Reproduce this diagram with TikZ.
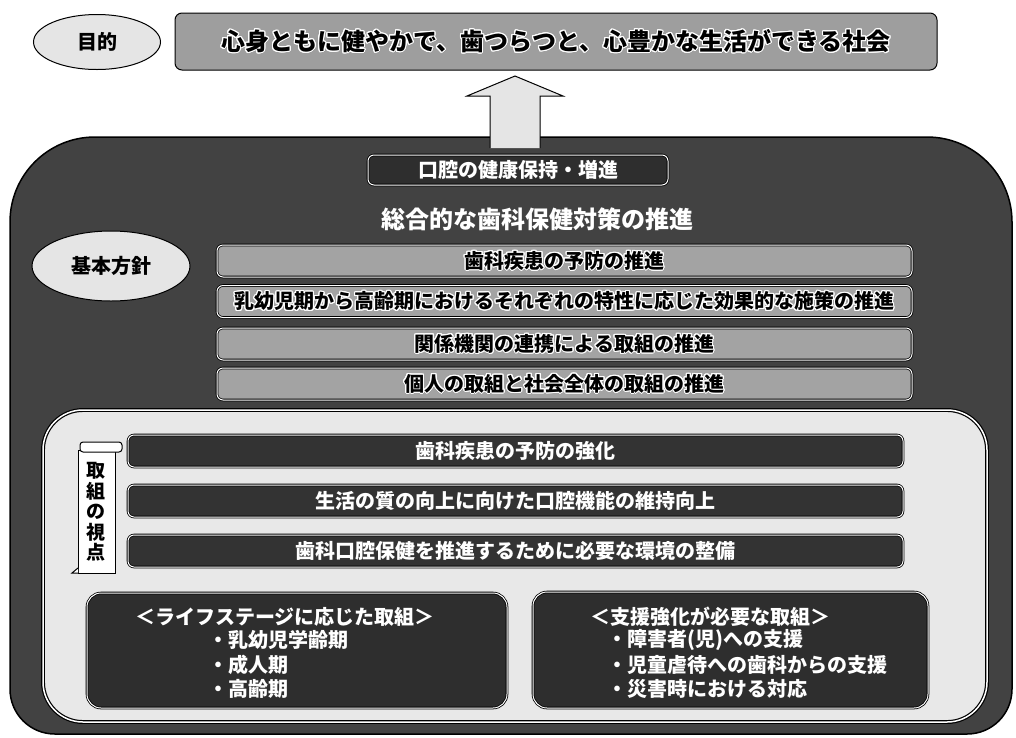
\documentclass[tikz,border=0pt]{standalone}
\usepackage{fontspec}
\setmainfont{Noto Sans CJK JP}
\usetikzlibrary{shapes.geometric}
\usepackage[copies]{contour}
\contourlength{1pt}
\contournumber{20}
\newcommand\myfs[1]{\fontsize{#1}{#1}\selectfont\bfseries}
\begin{document}
\begin{tikzpicture}[x=1pt,y=-1pt,
  ell/.style={ellipse, draw=black, line width=1pt, fill=black!10, inner sep=0pt},
  topbox/.style={draw=black, line width=1pt, fill=black!38, rounded corners=7pt, inner sep=0pt},
  outerbox/.style={draw=black, line width=1.5pt, fill=black!74},
  innerbox/.style={draw=black, line width=1.2pt, double=white, double distance=1.5pt, fill=black!9, rounded corners=40pt, inner sep=0pt},
  policy/.style={draw=black, line width=0.8pt, double=white, double distance=1pt, fill=black!36, rounded corners=6pt, inner sep=0pt, minimum width=695pt, minimum height=32pt, font=\myfs{20pt}},
  darkbar/.style={draw=black, line width=0.8pt, double=white, double distance=1pt, fill=black!80, rounded corners=6pt, inner sep=0pt, minimum width=775pt, minimum height=32pt, font=\myfs{20pt}, text=white},
  darkbox/.style={draw=black, line width=0.8pt, double=white, double distance=1pt, fill=black!82, rounded corners=14pt, inner sep=0pt},
  wtxt/.style={text=white, inner sep=0pt, font=\myfs{20pt}},
  blockarrow/.style={draw=black, line width=1pt, fill=black!10, line join=miter}
]
\useasboundingbox (0,0) rectangle (1016,737);
\fill[white] (0,0) rectangle (1016,737);

% purpose and goal
\node[ell, minimum width=127pt, minimum height=55pt, font=\myfs{20pt}] (purpose) at (97,42) {目的};
\node[topbox, minimum width=762pt, minimum height=57pt, font=\myfs{24pt}] (goal) at (556,41.5)
  {\contour{white}{心身ともに健やかで、歯つらつと、心豊かな生活ができる社会}};

% outer dark frame
\draw[outerbox] (10,222) .. controls (10,175) and (48,137) .. (95,137) -- (927,137)
  .. controls (974,137) and (1012,175) .. (1012,222) -- (1012,689)
  .. controls (1012,714) and (992,734) .. (967,734) -- (55,734)
  .. controls (30,734) and (10,714) .. (10,689) -- cycle;

% block arrow up to the goal
\draw[blockarrow] (490,148) -- (490,96) -- (467,96) -- (515,76) -- (563,96) -- (540,96) -- (540,148);

% oral health box and overall heading
\node[darkbox, rounded corners=6pt, minimum width=300pt, minimum height=30pt, font=\myfs{20pt}, text=white] (oral) at (518,170) {口腔の健康保持・増進};
\node[wtxt, font=\myfs{24pt}] (overall) at (537,219) {総合的な歯科保健対策の推進};

% basic policy
\node[ell, minimum width=158pt, minimum height=70pt, font=\myfs{20pt}] (kihon) at (111,266) {基本方針};
\node[policy] (p1) at (564.5,261) {\contour{white}{歯科疾患の予防の推進}};
\node[policy] (p2) at (564.5,301.5) {\contour{white}{乳幼児期から高齢期におけるそれぞれの特性に応じた効果的な施策の推進}};
\node[policy] (p3) at (564.5,344) {\contour{white}{関係機関の連携による取組の推進}};
\node[policy] (p4) at (564.5,384) {\contour{white}{個人の取組と社会全体の取組の推進}};

% inner light frame
\node[innerbox, minimum width=944pt, minimum height=312pt] (inner) at (515,566) {};

% scroll label
\draw[line width=1pt, fill=white] (78,450) rectangle (115,573);
\draw[line width=1pt, fill=white, rounded corners=3pt] (80,442) rectangle (122,452);
\draw[line width=1pt, fill=white] (78,568) -- (72,573) -- (78,573);
\node[inner sep=0pt, align=center, font=\fontsize{19pt}{20.5pt}\selectfont\bfseries] (viewpoint) at (96,512) {取\\組\\の\\視\\点};

% viewpoint bars
\node[darkbar] (v1) at (515.5,451) {歯科疾患の予防の強化};
\node[darkbar] (v2) at (515.5,501) {生活の質の向上に向けた口腔機能の維持向上};
\node[darkbar] (v3) at (515.5,551) {歯科口腔保健を推進するために必要な環境の整備};

% bottom boxes
\node[darkbox, minimum width=420pt, minimum height=115pt] (life) at (297,650.5) {};
\node[wtxt] (lifeT) at (285,617) {＜ライフステージに応じた取組＞};
\node[wtxt, anchor=west] (life1) at (208,640) {・乳幼児学齢期};
\node[wtxt, anchor=west] (life2) at (208,665) {・成人期};
\node[wtxt, anchor=west] (life3) at (208,689) {・高齢期};

\node[darkbox, minimum width=395pt, minimum height=116pt] (support) at (730.5,650) {};
\node[wtxt] (supT) at (710,617) {＜支援強化が必要な取組＞};
\node[wtxt, anchor=west] (sup1) at (607,640) {・障害者(児)への支援};
\node[wtxt, anchor=west] (sup2) at (607,665) {・児童虐待への歯科からの支援};
\node[wtxt, anchor=west] (sup3) at (607,689) {・災害時における対応};
\end{tikzpicture}
\end{document}
